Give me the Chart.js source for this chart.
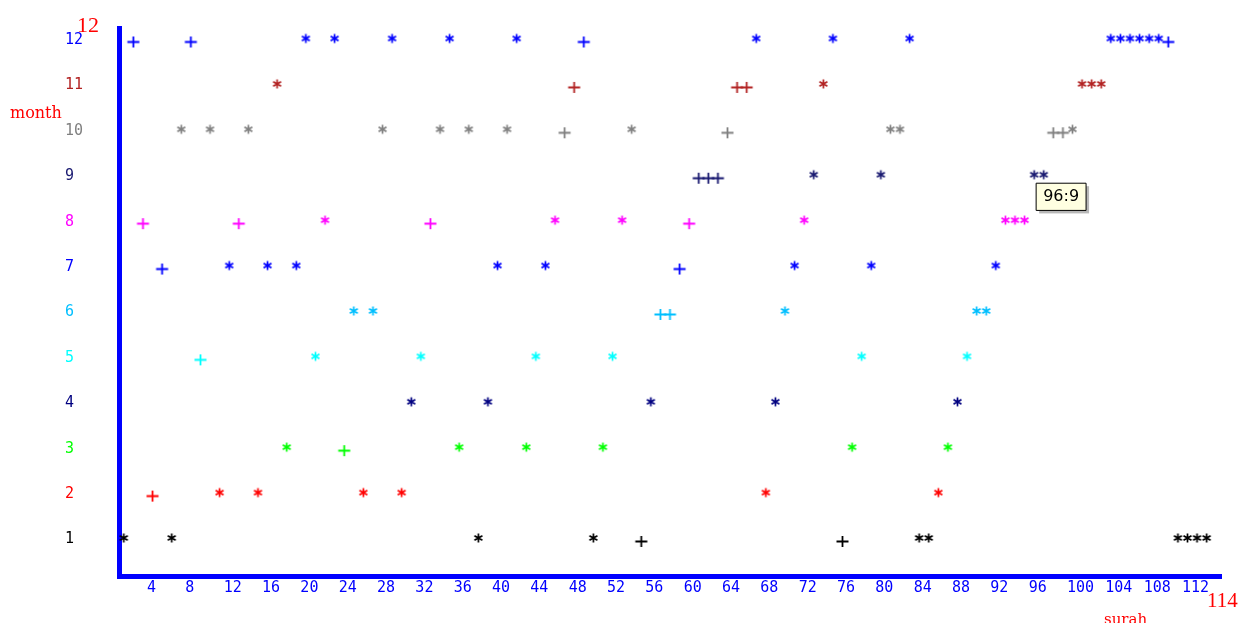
<!DOCTYPE html>
<html>
<head>
<meta charset="utf-8">
<title>surah / month</title>
<script src="https://cdn.jsdelivr.net/npm/chart.js@4.4.1/dist/chart.umd.min.js"></script>
<style>
  html, body { margin: 0; padding: 0; background: #fff; }
  #wrap { width: 1240px; height: 623px; }
</style>
</head>
<body>
<div id="wrap"><canvas id="chart" width="1240" height="623"></canvas></div>
<script>
// month for each surah, surah 1 .. 114 in order
const surahMonths = [
  1, 12, 8, 2, 7, 1, 10, 12, 5, 10,
  2, 7, 8, 10, 2, 7, 11, 3, 7, 12,
  5, 8, 12, 3, 6, 2, 6, 10, 12, 2,
  4, 5, 8, 10, 12, 3, 10, 1, 4, 7,
  10, 12, 3, 5, 7, 8, 10, 11, 12, 1,
  3, 5, 8, 10, 1, 4, 6, 6, 7, 8,
  9, 9, 9, 10, 11, 11, 12, 2, 4, 6,
  7, 8, 9, 11, 12, 1, 3, 5, 7, 9,
  10, 10, 12, 1, 1, 2, 3, 4, 5, 6,
  6, 7, 8, 8, 8, 9, 9, 10, 10, 10,
  11, 11, 11, 12, 12, 12, 12, 12, 12, 12,
  1, 1, 1, 1
];

// surahs drawn with "+" instead of "*"
const plusSurahs = [2, 3, 4, 5, 8, 9, 13, 24, 33, 47, 48, 49, 55, 57, 58, 59, 60,
  61, 62, 63, 64, 65, 66, 76, 98, 99, 110];

const months = [1, 2, 3, 4, 5, 6, 7, 8, 9, 10, 11, 12];
const monthColors = ['#000000', '#ff0000', '#00ff00', '#000080', '#00ffff', '#00bfff',
  '#0000ff', '#ff00ff', '#191970', '#808080', '#b22222', '#0000ff'];
const xTicks = [4, 8, 12, 16, 20, 24, 28, 32, 36, 40, 44, 48, 52, 56, 60, 64, 68, 72,
  76, 80, 84, 88, 92, 96, 100, 104, 108, 112];
const pinned = { surah: 96, month: 9 };

// little glyph-like markers, one pair per colour
function makeMarker(shape, color) {
  const c = document.createElement('canvas');
  c.width = 17;
  c.height = 17;
  const g = c.getContext('2d');
  g.strokeStyle = color;
  g.beginPath();
  if (shape === 'plus') {
    g.lineWidth = 1.8;
    g.moveTo(2.5, 10.5); g.lineTo(14.5, 10.5);
    g.moveTo(8.5, 5); g.lineTo(8.5, 16);
  } else {
    g.lineWidth = 1.7;
    [90, 30, 150].forEach(a => {
      const r = a * Math.PI / 180;
      const dx = Math.cos(r) * 4.6, dy = Math.sin(r) * 4.6;
      g.moveTo(8.5 - dx, 7 - dy);
      g.lineTo(8.5 + dx, 7 + dy);
    });
  }
  g.stroke();
  return c;
}

const markers = monthColors.map(col => ({ plus: makeMarker('plus', col), star: makeMarker('star', col) }));

const datasets = months.map((m, i) => ({
  label: 'month ' + m,
  data: surahMonths.map((mm, k) => ({ x: k + 1, y: mm })).filter(p => p.y === m),
  pointStyle: ctx => markers[i][ctx.raw && plusSurahs.includes(ctx.raw.x) ? 'plus' : 'star'],
  pointRadius: 5,
  borderColor: monthColors[i],
  backgroundColor: monthColors[i],
  showLine: false
}));

Chart.Tooltip.positioners.pinned = function (items) {
  if (!items.length) return false;
  const el = items[0].element;
  return { x: el.x + 2, y: el.y };
};

const decorations = {
  id: 'decorations',
  beforeTooltipDraw(chart, args) {
    const t = args.tooltip;
    const ctx = chart.ctx;
    ctx.save();
    ctx.fillStyle = 'rgba(0,0,0,0.28)';
    ctx.fillRect(t.x + 3, t.y + 3, t.width, t.height);
    ctx.restore();
  },
  afterDraw(chart) {
    const ctx = chart.ctx;
    const area = chart.chartArea;
    ctx.save();
    ctx.fillStyle = '#ff0000';
    ctx.textBaseline = 'alphabetic';
    ctx.textAlign = 'left';
    ctx.font = '16px "DejaVu Serif"';
    ctx.fillText('month', 10, 118);
    ctx.font = '15px "DejaVu Serif"';
    ctx.fillText('surah', 1104, 624);
    ctx.font = '22px "Liberation Serif"';
    ctx.fillText('12', area.left - 42, area.top + 4);
    ctx.font = '21px "Liberation Serif"';
    ctx.fillText('114', area.right - 14, area.bottom + 31);
    ctx.restore();
  }
};

const tickFont = { family: 'DejaVu Sans Mono', size: 15 };

const chart = new Chart(document.getElementById('chart'), {
  type: 'scatter',
  data: { datasets },
  options: {
    responsive: false,
    animation: false,
    layout: { padding: { left: 65, top: 28, right: 19, bottom: 0 } },
    plugins: {
      legend: { display: false },
      tooltip: {
        position: 'pinned',
        xAlign: 'left',
        yAlign: 'top',
        caretSize: 0,
        caretPadding: 7,
        cornerRadius: 0,
        backgroundColor: '#ffffe1',
        borderColor: '#000000',
        borderWidth: 1,
        bodyColor: '#000000',
        bodyFont: { family: 'DejaVu Sans', size: 16 },
        padding: { left: 7, right: 7, top: 4, bottom: 4 },
        displayColors: false,
        callbacks: {
          title: () => '',
          label: ctx => ctx.raw.x + ':' + ctx.raw.y
        }
      }
    },
    scales: {
      x: {
        type: 'linear',
        min: 0.5,
        max: 115.5,
        afterBuildTicks: s => { s.ticks = xTicks.map(v => ({ value: v })); },
        afterFit: s => { s.height = 47; },
        grid: { display: false, drawTicks: false },
        border: { display: true, color: '#0000ff', width: 5 },
        ticks: {
          color: '#0000ff', font: tickFont, align: 'start', labelOffset: -5.5,
          padding: 3, autoSkip: false, maxRotation: 0
        }
      },
      y: {
        type: 'linear',
        min: 0.196,
        max: 12.264,
        afterBuildTicks: s => { s.ticks = months.map(v => ({ value: v })); },
        afterFit: s => { s.width = 54; },
        grid: { display: false, drawTicks: false },
        border: { display: true, color: '#0000ff', width: 5 },
        ticks: {
          color: ctx => monthColors[ctx.tick.value - 1],
          font: tickFont, crossAlign: 'far', autoSkip: false
        }
      }
    }
  },
  plugins: [decorations]
});

// show the tooltip that is open in the original
const pinDs = pinned.month - 1;
const pinIdx = chart.data.datasets[pinDs].data.findIndex(p => p.x === pinned.surah);
chart.tooltip.setActiveElements([{ datasetIndex: pinDs, index: pinIdx }], { x: 0, y: 0 });
chart.update();
</script>
</body>
</html>
